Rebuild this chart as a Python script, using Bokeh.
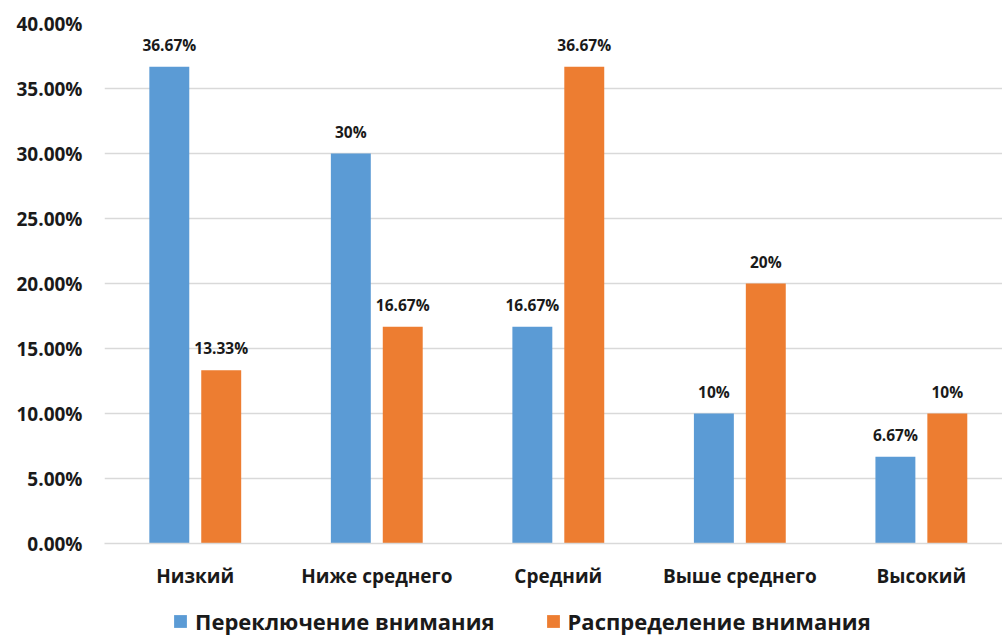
from bokeh.plotting import figure
from bokeh.layouts import column
from bokeh.models import (ColumnDataSource, Range1d, FixedTicker, PrintfTickFormatter,
                          Legend, LegendItem)
from bokeh.transform import dodge
from bokeh.core.properties import value
from bokeh.embed import file_html
from bokeh.resources import INLINE

categories = ["Низкий", "Ниже среднего", "Средний", "Выше среднего", "Высокий"]
switching = [36.67, 30.0, 16.67, 10.0, 6.67]
distribution = [13.33, 16.67, 36.67, 20.0, 10.0]
series_names = ["Переключение внимания", "Распределение внимания"]
y_ticks = [0, 5, 10, 15, 20, 25, 30, 35, 40]

BLUE = "#5B9BD5"
ORANGE = "#ED7D31"
FONT = "Open Sans"
TXT = "#1a1a1a"

xs = list(range(len(categories)))
src = ColumnDataSource(data=dict(
    x=xs,
    s1=switching,
    s2=distribution,
    l1=[f"{v:g}%" for v in switching],
    l2=[f"{v:g}%" for v in distribution],
))

p = figure(width=1002, height=600, output_backend="svg", toolbar_location=None,
           x_range=Range1d(-0.5, 4.447), y_range=Range1d(0, 40),
           min_border_left=104, min_border_right=0, min_border_top=23,
           min_border_bottom=57)
p.outline_line_color = None
p.background_fill_color = "white"
p.border_fill_color = "white"

off = 0.143
w = 0.22
p.vbar(x=dodge("x", -off), top="s1", width=w, source=src, fill_color=BLUE,
       line_color=None)
p.vbar(x=dodge("x", off), top="s2", width=w, source=src, fill_color=ORANGE,
       line_color=None)

for col, lab, o in (("s1", "l1", -off), ("s2", "l2", off)):
    p.text(x=dodge("x", o), y=col, text=lab, source=src, text_align="center",
           text_baseline="alphabetic", y_offset=-22, text_font=value(FONT),
           text_font_style="bold", text_font_size="15.5px", text_color=TXT)

# axes
p.xgrid.visible = False
p.ygrid.grid_line_color = "#D9D9D9"
p.ygrid.grid_line_width = 1.3
p.yaxis.ticker = FixedTicker(ticks=y_ticks)
p.yaxis.formatter = PrintfTickFormatter(format="%.2f%%")
p.yaxis.axis_line_color = None
p.yaxis.major_tick_line_color = None
p.yaxis.minor_tick_line_color = None
p.yaxis.major_label_standoff = 16
p.yaxis.major_label_text_font = FONT
p.yaxis.major_label_text_font_style = "bold"
p.yaxis.major_label_text_font_size = "19px"
p.yaxis.major_label_text_color = TXT

p.xaxis.ticker = FixedTicker(ticks=xs)
p.xaxis.major_label_overrides = {i: c for i, c in enumerate(categories)}
p.xaxis.axis_line_color = "#D9D9D9"
p.xaxis.axis_line_width = 1.3
p.xaxis.major_tick_line_color = None
p.xaxis.minor_tick_line_color = None
p.xaxis.major_label_standoff = 13
p.xaxis.major_label_text_font = FONT
p.xaxis.major_label_text_font_style = "bold"
p.xaxis.major_label_text_font_size = "19px"
p.xaxis.major_label_text_color = TXT

# legend strip below the chart (its bars lie outside its y range, only the legend shows)
lg = figure(width=1002, height=39, output_backend="svg", toolbar_location=None,
            x_range=Range1d(-0.5, 4.447), y_range=Range1d(100, 101),
            min_border_left=104, min_border_right=0, min_border_top=0,
            min_border_bottom=0)
lg.outline_line_color = None
lg.axis.visible = False
lg.grid.visible = False
d1 = lg.vbar(x="x", top="s1", width=w, source=src, fill_color=BLUE, line_color=None)
d2 = lg.vbar(x="x", top="s2", width=w, source=src, fill_color=ORANGE, line_color=None)

legend = Legend(items=[LegendItem(label=series_names[0], renderers=[d1]),
                       LegendItem(label=series_names[1], renderers=[d2])],
                orientation="horizontal", location=(68, 3),
                glyph_width=16, glyph_height=16, label_standoff=7, spacing=50,
                padding=0, margin=0, border_line_color=None,
                background_fill_alpha=0,
                label_text_font=FONT, label_text_font_style="bold",
                label_text_font_size="22px", label_text_color=TXT,
                label_height=22)
lg.add_layout(legend, "center")

layout = column(p, lg, spacing=0)
open("out.html", "w").write(file_html(layout, INLINE))
